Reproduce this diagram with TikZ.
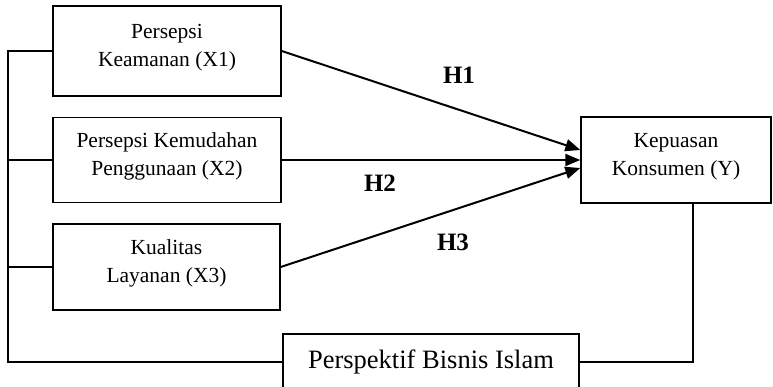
\documentclass[tikz,border=0pt]{standalone}
\usepackage{fontspec}
\setmainfont{Liberation Serif}
\usetikzlibrary{arrows.meta}
\tikzset{
  varbox/.style={draw, line width=1.4pt, align=center, inner sep=0pt,
    font=\fontsize{21.5}{28}\selectfont, text depth=11pt},
  trunk/.style={line width=1.4pt},
  hyp/.style={line width=2pt, -{Triangle[length=15pt,width=12pt]}},
  hlabel/.style={font=\fontsize{25}{25}\selectfont\bfseries}
}
\begin{document}
\begin{tikzpicture}[x=1pt,y=-1pt]
\useasboundingbox (0,0) rectangle (773,387);
\node[varbox, minimum width=228, minimum height=90] (x1) at (167,51) {Persepsi\\Keamanan (X1)};
\node[varbox, minimum width=228, minimum height=85] (x2) at (167,160) {Persepsi Kemudahan\\Penggunaan (X2)};
\node[varbox, minimum width=227, minimum height=86] (x3) at (166.5,267) {Kualitas\\Layanan (X3)};
\node[varbox, minimum width=190, minimum height=86] (yy) at (676,160) {Kepuasan\\Konsumen (Y)};
\node[draw, line width=1.4pt, inner sep=0pt, minimum width=296, minimum height=56,
      font=\fontsize{26.5}{30}\selectfont] (pb) at (431,362) {Perspektif Bisnis Islam};
\coordinate (t1) at (8,51);
\draw[trunk] (x1.west) -- (t1) |- (pb.west);
\draw[trunk] (x2.west) -- (x2.west -| t1);
\draw[trunk] (x3.west) -- (x3.west -| t1);
\draw[trunk] (pb.east) -| ([xshift=17pt]yy.south);
\draw[hyp] (x1.east) -- ([yshift=10pt]yy.west);
\draw[hyp] (x2.east) -- (yy.west);
\draw[hyp] (x3.east) -- ([yshift=-8pt]yy.west);
\node[hlabel] (h1) at (459,75) {H1};
\node[hlabel] (h2) at (380,183) {H2};
\node[hlabel] (h3) at (453,242) {H3};
\end{tikzpicture}
\end{document}
